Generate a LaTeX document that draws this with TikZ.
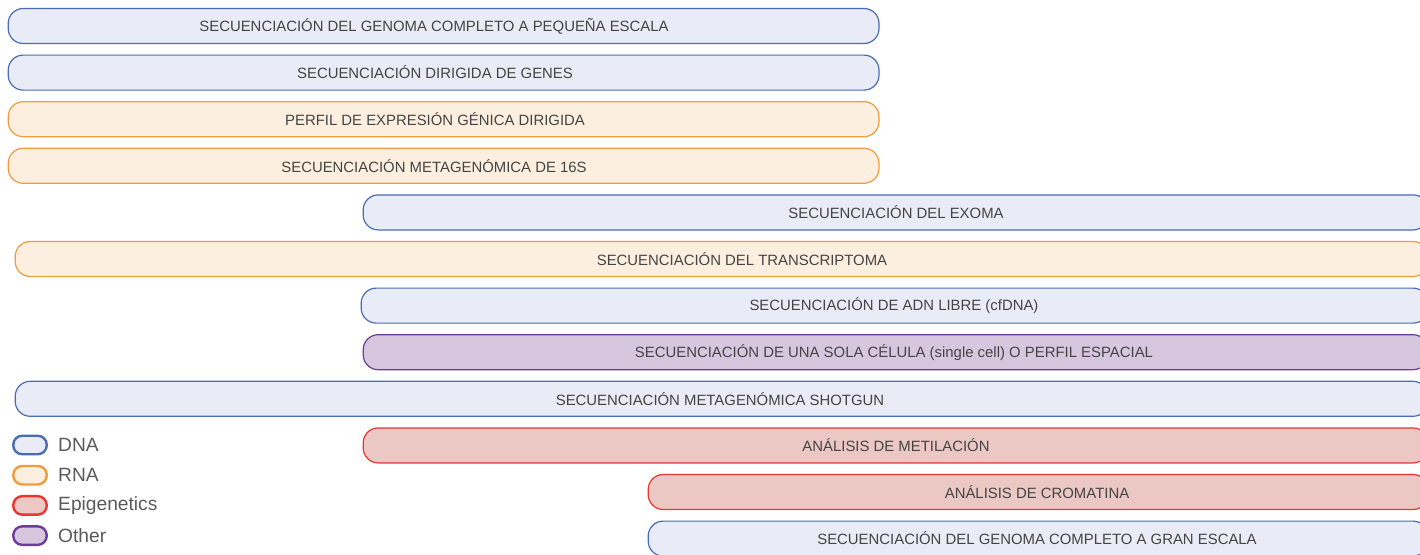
\documentclass[tikz,border=0pt]{standalone}
\usepackage{fontspec}
\setmainfont{Liberation Sans}

\definecolor{dnafill}{HTML}{E9ECF6}
\definecolor{dnaline}{HTML}{4A6CB5}
\definecolor{rnafill}{HTML}{FCEFDF}
\definecolor{rnaline}{HTML}{F29A3E}
\definecolor{epifill}{HTML}{ECC8C5}
\definecolor{epiline}{HTML}{E8352F}
\definecolor{othfill}{HTML}{D6C7DF}
\definecolor{othline}{HTML}{6A3D9A}
\definecolor{bartext}{HTML}{454545}
\definecolor{keytext}{HTML}{5A5A5A}

\tikzset{
  bar/.style={draw, rounded corners=15pt, line width=1.2pt, minimum height=35pt, inner sep=0pt, anchor=west},
  dna/.style={bar, fill=dnafill, draw=dnaline},
  rna/.style={bar, fill=rnafill, draw=rnaline},
  epi/.style={bar, fill=epifill, draw=epiline},
  oth/.style={bar, fill=othfill, draw=othline},
  bartitle/.style={text=bartext, inner sep=0pt, font=\fontsize{14.9}{16}\selectfont},
  key/.style={rounded corners=9pt, line width=2.4pt, minimum width=33.5pt, minimum height=18.5pt, inner sep=0pt},
  keytitle/.style={text=keytext, inner sep=0pt, anchor=west, font=\fontsize{19.2}{21}\selectfont},
}

\begin{document}
\begin{tikzpicture}[x=1pt,y=-1pt]

\useasboundingbox (0,0) rectangle (1420,554);
\clip (0,0) rectangle (1420,554);

% bars: number / kind / left end / width / text centre / text
\foreach \n/\k/\xa/\w/\tx/\t in {
  1/dna/7/872/434/{SECUENCIACIÓN DEL GENOMA COMPLETO A PEQUEÑA ESCALA},
  2/dna/7/872/435/{SECUENCIACIÓN DIRIGIDA DE GENES},
  3/rna/7/872/435/{PERFIL DE EXPRESIÓN GÉNICA DIRIGIDA},
  4/rna/7/872/434/{SECUENCIACIÓN METAGENÓMICA DE 16S},
  5/dna/362/1066/896/{SECUENCIACIÓN DEL EXOMA},
  6/rna/14/1414/742/{SECUENCIACIÓN DEL TRANSCRIPTOMA},
  7/dna/360/1068/894/{SECUENCIACIÓN DE ADN LIBRE (cfDNA)},
  8/oth/362/1066/894/{SECUENCIACIÓN DE UNA SOLA CÉLULA (single cell) O PERFIL ESPACIAL},
  9/dna/14/1414/720/{SECUENCIACIÓN METAGENÓMICA SHOTGUN},
  10/epi/362/1066/896/{ANÁLISIS DE METILACIÓN},
  11/epi/647/781/1037/{ANÁLISIS DE CROMATINA},
  12/dna/647/781/1037/{SECUENCIACIÓN DEL GENOMA COMPLETO A GRAN ESCALA}} {
  \node[\k, minimum width=\w-1.2] (b\n) at (\xa+0.6, {26+46.6*(\n-1)}) {};
  \node[bartitle] (t\n) at (\tx, {26+46.6*(\n-1)}) {\t};
}

% legend
\foreach \i/\k/\t in {0/dna/DNA, 1/rna/RNA, 2/epi/Epigenetics, 3/oth/Other} {
  \node[key, fill=\k fill, draw=\k line] (k\i) at (30, {445+30.2*\i}) {};
  \node[keytitle] (l\i) at (58, {445+30.2*\i}) {\t};
}

\end{tikzpicture}
\end{document}
